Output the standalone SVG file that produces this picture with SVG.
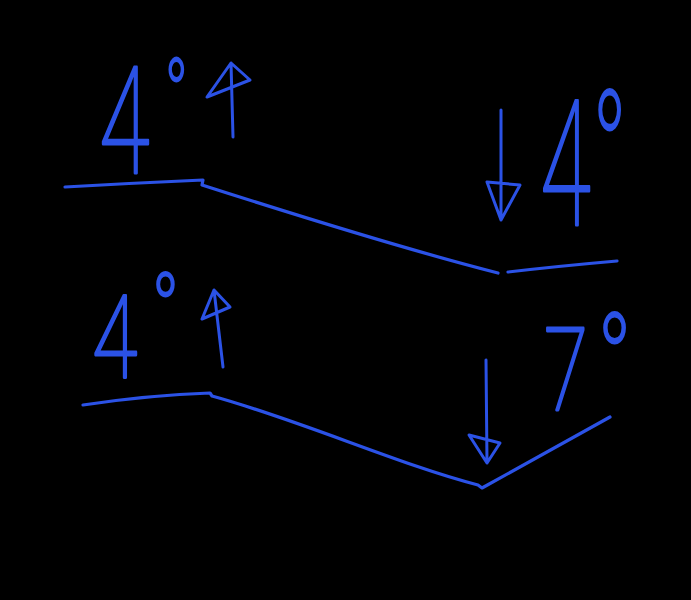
<svg xmlns="http://www.w3.org/2000/svg" width="691" height="600" viewBox="0 0 691 600">
  <style>
    .ink { fill: none; stroke: #2b52e6; stroke-width: 3.2; stroke-linecap: round; stroke-linejoin: round; }
    .arrow { fill: none; stroke: #2b52e6; stroke-width: 3; stroke-linecap: round; stroke-linejoin: round; }
    .lbl { font-family: Roboto, "Liberation Sans", sans-serif; font-weight: 100; fill: #2b52e6; stroke: #2b52e6; stroke-width: 2.8; stroke-linejoin: round; }
  </style>
  <rect width="691" height="600" fill="#000000"/>

  <g id="connectors">
    <path class="ink" d="M65,187 Q135,183 203,180 L202,185 C280,210 400,248 498,273"/>
    <path class="ink" d="M508,272 Q560,266 617,261"/>
    <path class="ink" d="M83,405 Q150,395 210,393 L212,396 C300,420 400,465 478,485 L482,488 L610,417"/>
  </g>

  <g id="node-top-left">
    <text class="lbl" transform="translate(99,173) scale(0.62,1)" font-size="149" x="0" y="0">4<tspan x="106" y="-44" font-size="98">°</tspan></text>
    <path class="arrow" d="M233,137 L231,63 M231,63 L207,97 L250,80 Z"/>
  </g>

  <g id="node-top-right">
    <path class="arrow" d="M501,110 L501,220 M501,220 L487,182 L520,185 Z"/>
    <text class="lbl" transform="translate(540,225) scale(0.53,1)" font-size="175" x="0" y="0">4<tspan x="98" y="-10" font-size="175">°</tspan></text>
  </g>

  <g id="node-bottom-left">
    <text class="lbl" transform="translate(92,377) scale(0.72,1)" font-size="115" x="0" y="0">4<tspan x="83" y="-32" font-size="100">°</tspan></text>
    <path class="arrow" d="M223,367 L214,290 M214,290 L202,319 L230,307 Z"/>
  </g>

  <g id="node-bottom-right">
    <path class="arrow" d="M486,360 L487,463 M487,463 L469,435 L500,443 Z"/>
    <text class="lbl" transform="translate(544,410) scale(0.7,1)" font-size="115" x="0" y="0">7<tspan x="76" y="-4" font-size="130">°</tspan></text>
  </g>
</svg>
